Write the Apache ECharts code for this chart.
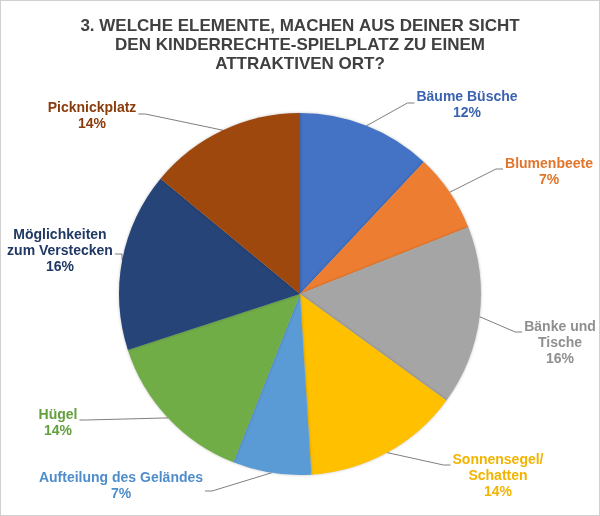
<!DOCTYPE html>
<html>
<head>
<meta charset="utf-8">
<script src="https://cdn.jsdelivr.net/npm/echarts@6/dist/echarts.min.js"></script>
<style>
  html, body { margin: 0; padding: 0; background: #fff; }
  #main { width: 598px; height: 514px; border: 1px solid #d0d0d0; }
</style>
</head>
<body>
<div id="main"></div>
<script>
var dom = document.getElementById('main')
var chart = echarts.init(dom)

var categories = [
    'Bäume Büsche',
    'Blumenbeete',
    'Bänke und\nTische',
    'Sonnensegel/\nSchatten',
    'Aufteilung des Geländes',
    'Hügel',
    'Möglichkeiten\nzum Verstecken',
    'Picknickplatz'
];
var values = [12, 7, 16, 14, 7, 14, 16, 14];

var sliceColors = ['#4472C4', '#ED7D31', '#A5A5A5', '#FFC000', '#5B9BD5', '#70AD47', '#264478', '#9E480E'];
var labelColors = ['#3A62B0', '#E0752B', '#8F8F8F', '#F2B400', '#4E8DCB', '#62A03C', '#1F3864', '#8A3C0C'];

var CX = 299, CY = 293, R = 181;

// label anchor (centre of text block) and where the leader meets it (offset from block top)
var labelPos = [
    [466, 104], [548, 171], [559, 342], [497, 475],
    [120, 485], [57, 422], [59, 250], [91, 115]
];
var lineDy = [14, 13, 13, 13, 21, 13, 27, 14];

var total = values.reduce(function (a, b) { return a + b }, 0)

function midAngle(i) {
    var before = 0
    for (var k = 0; k < i; k++) before += values[k]
    return (before + values[i] / 2) / total * Math.PI * 2
}

var options = {
    backgroundColor: '#fff',
    title: {
        text: '3. WELCHE ELEMENTE, MACHEN AUS DEINER SICHT\nDEN KINDERRECHTE-SPIELPLATZ ZU EINEM\nATTRAKTIVEN ORT?',
        left: 'center',
        top: 11,
        textStyle: {
            fontFamily: 'Liberation Sans, Arial',
            fontSize: 17,
            fontWeight: 'bold',
            color: '#404040',
            lineHeight: 19
        }
    },
    series: [{
        type: 'pie',
        center: [CX, CY],
        radius: R,
        startAngle: 90,
        clockwise: true,
        animation: false,
        data: categories.map(function (name, i) {
            return {
                name: name,
                value: values[i],
                itemStyle: { color: sliceColors[i] },
                label: { color: labelColors[i] }
            }
        }),
        itemStyle: {
            borderWidth: 0,
            shadowBlur: 3,
            shadowColor: 'rgba(0,0,0,0.25)'
        },
        label: {
            show: true,
            position: 'outside',
            formatter: '{b}\n{d}%',
            fontFamily: 'Liberation Sans, Arial',
            fontSize: 14,
            fontWeight: 'bold',
            lineHeight: 16,
            align: 'center',
            overflow: 'none'
        },
        labelLine: {
            show: true,
            lineStyle: { color: '#7f7f7f', width: 1 }
        },
        labelLayout: function (params) {
            var i = params.dataIndex
            var p = labelPos[i]
            var w = params.labelRect.width
            var h = params.labelRect.height
            var a = midAngle(i)
            var start = [CX + R * Math.sin(a), CY - R * Math.cos(a)]
            var right = p[0] > CX
            var ex = right ? p[0] - w / 2 - 2 : p[0] + w / 2 + 2
            var ey = p[1] - h / 2 + lineDy[i]
            var elbow = [right ? ex - 7 : ex + 7, ey]
            return {
                x: p[0],
                y: p[1],
                align: 'center',
                verticalAlign: 'middle',
                labelLinePoints: [start, elbow, [ex, ey]]
            }
        }
    }]
}

chart.setOption(options)
</script>
</body>
</html>
